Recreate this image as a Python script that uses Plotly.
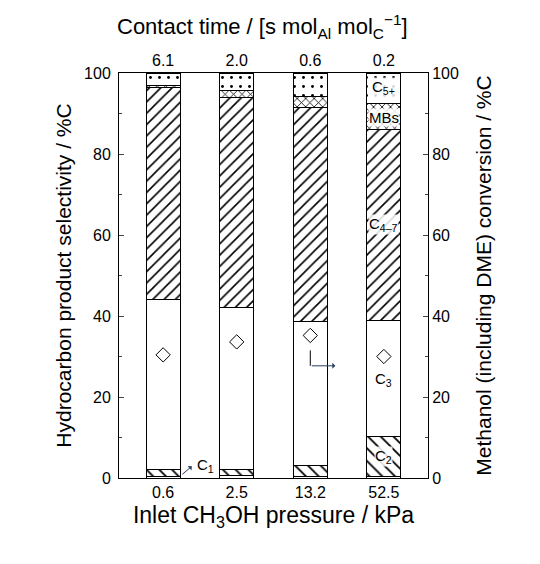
import plotly.graph_objects as go

# categories
pressure_kpa = ["0.6", "2.5", "13.2", "52.5"]
contact_time = ["6.1", "2.0", "0.6", "0.2"]

# selectivity by product group, %C (stacked, bottom to top)
sel_c1 = [0.4, 0.5, 0.3, 0.3]
sel_c2 = [1.6, 1.7, 2.9, 9.9]
sel_c3 = [42.0, 39.8, 35.5, 28.8]
sel_c4_7 = [52.4, 51.9, 52.7, 47.0]
sel_mbs = [0.4, 1.7, 2.7, 6.5]
sel_c5p = [3.2, 4.4, 5.9, 7.5]

# methanol (incl. DME) conversion, %C
conversion = [30.4, 33.6, 35.2, 30.0]

FONT = "Liberation Sans"
xpos = list(range(len(pressure_kpa)))

# (name, values, pattern shape, pattern size, solidity)
series = [
    ("C1", sel_c1, "", 8, 0.2),
    ("C2", sel_c2, "\\", 9, 0.2),
    ("C3", sel_c3, "", 8, 0.2),
    ("C4-7", sel_c4_7, "/", 8, 0.2),
    ("MBs", sel_mbs, "x", 6, 0.25),
    ("C5+", sel_c5p, ".", 9, 0.08),
]

fig = go.Figure()
for name, vals, shape, size, solid in series:
    fig.add_trace(go.Bar(
        x=xpos, y=vals, name=name, width=0.46,
        marker=dict(
            color="white",
            line=dict(color="black", width=1),
            pattern=dict(shape=shape, fgcolor="black", bgcolor="white", fgopacity=1,
                         size=size, solidity=solid),
        ),
    ))

fig.add_trace(go.Scatter(
    x=xpos, y=conversion, mode="markers", yaxis="y2", name="conversion",
    marker=dict(symbol="diamond-open", size=11, color="black", line=dict(width=1)),
))

# invisible trace so the top axis shows up
fig.add_trace(go.Scatter(x=xpos, y=[None] * 4, xaxis="x2", showlegend=False, hoverinfo="skip"))

tick_font = dict(family=FONT, size=16, color="black")
xrange = [-0.6, 3.6]

# page body has an 8px margin, so the figure is 8px smaller than the window
fig.update_layout(
    width=532, height=556,
    margin=dict(l=111, r=112, t=65, b=86),
    barmode="stack",
    showlegend=False,
    plot_bgcolor="white",
    paper_bgcolor="white",
    font=dict(family=FONT, color="black"),
    xaxis=dict(
        range=xrange, tickvals=xpos, ticktext=pressure_kpa, tickfont=tick_font, automargin=False,
        showline=True, linecolor="black", linewidth=1, ticks="", showgrid=False, zeroline=False,
        title=dict(text="Inlet CH<sub>3</sub>OH pressure / kPa", font=dict(size=23), standoff=6),
    ),
    xaxis2=dict(
        range=xrange, overlaying="x", side="top", tickvals=xpos, ticktext=contact_time,
        tickfont=tick_font, showline=True, linecolor="black", linewidth=1, ticks="",
        showgrid=False, zeroline=False, automargin=False,
    ),
    yaxis=dict(
        range=[0, 100], dtick=20, tickfont=tick_font, ticks="inside", ticklen=5,
        showline=True, linecolor="black", linewidth=1, showgrid=False, zeroline=False,
        minor=dict(dtick=10, ticks="inside", ticklen=3), automargin=False, ticklabelstandoff=4,
        title=dict(text="Hydrocarbon product selectivity / %C", font=dict(size=21), standoff=6),
    ),
    yaxis2=dict(
        range=[0, 100], dtick=20, overlaying="y", side="right", tickfont=tick_font,
        ticks="inside", ticklen=5, showline=True, linecolor="black", linewidth=1,
        showgrid=False, zeroline=False, minor=dict(dtick=10, ticks="inside", ticklen=3),
        automargin=False,
        title=dict(text="Methanol (including DME) conversion / %C", font=dict(size=21), standoff=18),
    ),
)

# top axis title, sits a little left of the plot centre in the original
fig.add_annotation(x=0.466, y=1.114, xref="paper", yref="paper", showarrow=False,
                   text="Contact time / [s mol<sub>Al</sub> mol<sub>C</sub><sup>−1</sup>]",
                   font=dict(family=FONT, size=22, color="black"), yanchor="middle")

lab_font = dict(family=FONT, size=15, color="black")
label_bg = "rgba(255,255,255,0.85)"
# product labels on the last bar
fig.add_annotation(x=3, y=5.2, text="C<sub>2</sub>", showarrow=False, font=lab_font, bgcolor=label_bg,
                   borderpad=0)
fig.add_annotation(x=3, y=24.2, text="C<sub>3</sub>", showarrow=False, font=lab_font)
fig.add_annotation(x=3, y=62.5, text="C<sub>4–7</sub>", showarrow=False, font=lab_font, bgcolor=label_bg,
                   borderpad=0)
fig.add_annotation(x=3, y=88.9, text="MBs", showarrow=False, font=lab_font, bgcolor=label_bg,
                   borderpad=0)
fig.add_annotation(x=3, y=96.3, text="C<sub>5+</sub>", showarrow=False, font=lab_font, bgcolor=label_bg,
                   borderpad=0)

# C1 label, arrow runs from the first bar out to the label
fig.add_annotation(x=0.39, y=2.9, ax=0.24, ay=0.6, axref="x", ayref="y",
                   showarrow=True, arrowhead=1, arrowsize=1, arrowwidth=1, text="")
fig.add_annotation(x=0.57, y=3.0, text="C<sub>1</sub>", showarrow=False, font=lab_font)

# elbow arrow: diamonds read on the right axis
fig.add_shape(type="line", x0=2, x1=2, y0=31.5, y1=27.7, line=dict(color="black", width=1))
fig.add_annotation(x=2.34, y=27.7, ax=2, ay=27.7, axref="x", ayref="y",
                   showarrow=True, arrowhead=1, arrowsize=1, arrowwidth=1, text="")

fig.write_html("out.html")
